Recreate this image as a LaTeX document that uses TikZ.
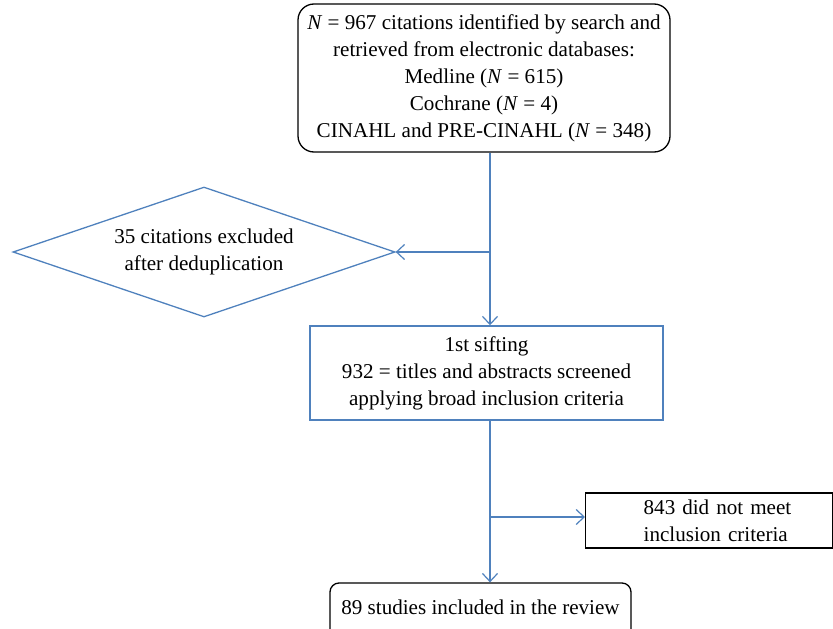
\documentclass[tikz,border=0pt]{standalone}
\usepackage{fontspec}
\setmainfont{Liberation Serif}
\usetikzlibrary{arrows.meta,shapes.geometric}
\definecolor{ablue}{RGB}{79,129,189}
\begin{document}
\begin{tikzpicture}[x=1pt,y=-1pt,
  txt/.style={font=\fontsize{21.1}{27}\selectfont, align=center},
  bbox/.style={draw=black, line width=1.3pt},
  blbox/.style={draw=ablue, line width=1.5pt},
  conn/.style={draw=ablue, line width=1.5pt, -{Straight Barb[length=8pt,width=15pt,line width=1.2pt]}}
  ]
\useasboundingbox (0,0) rectangle (833,629);
\clip (0,0) rectangle (833,629);

\node[bbox, rounded corners=16pt, minimum width=372pt, minimum height=148pt, inner sep=0pt, txt] (top) at (484,78)
  {\textit{N} = 967 citations identified by search and\\
   retrieved from electronic databases:\\
   Medline (\textit{N} = 615)\\
   Cochrane (\textit{N} = 4)\\
   CINAHL and PRE-CINAHL (\textit{N} = 348)};

\node[diamond, draw=ablue, line width=1.3pt, shape aspect=2.94, minimum width=382pt, minimum height=130pt, inner sep=0pt, txt] (dup) at (204,252)
  {35 citations excluded\\after deduplication};

\node[blbox, minimum width=353pt, minimum height=94pt, inner sep=0pt, txt] (sift) at (486.5,373)
  {1st sifting\\
   932 = titles and abstracts screened\\
   applying broad inclusion criteria};

\node[bbox, anchor=west, minimum width=247pt, minimum height=55pt, inner sep=0pt, txt, text width=247pt, align=left] (excl) at (585,520.5)
  {\hspace*{58pt}843 did not meet\\\hspace*{58pt}inclusion criteria};

\node[bbox, rounded corners=9pt, minimum width=301pt, minimum height=58pt, inner sep=0pt, txt, text height=14pt, text depth=10pt] (final) at (480.5,612)
  {89 studies included in the review};

\coordinate (j1) at (490,252);
\coordinate (j2) at (490,517);

\draw[conn] (top.south -| j1) -- (sift.north -| j1);
\draw[conn] (j1) -- (dup.east);
\draw[conn] (sift.south -| j2) -- (final.north -| j2);
\draw[conn] (j2) -- (excl.west |- j2);
\end{tikzpicture}
\end{document}
